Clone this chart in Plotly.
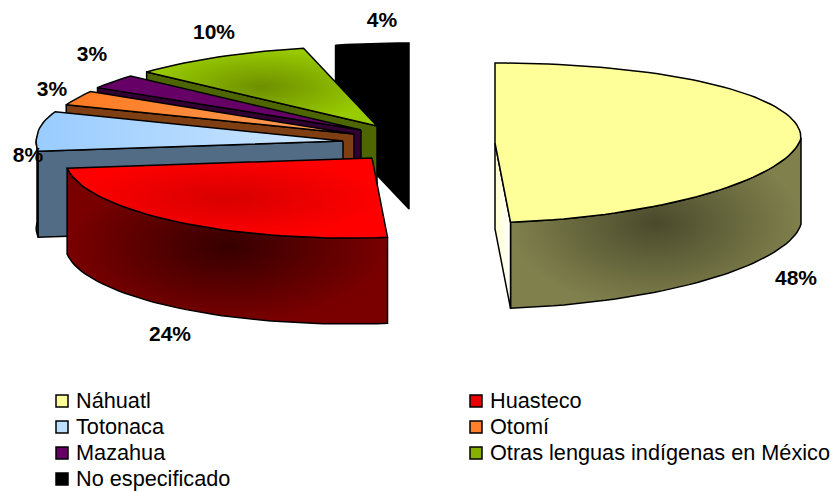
import math
import plotly.graph_objects as go

categories = ["Náhuatl", "Huasteco", "Totonaca", "Otomí", "Mazahua",
              "Otras lenguas indígenas en México", "No especificado"]
percents = [48, 24, 8, 3, 3, 10, 4]

# Styling of each slice
top_grad = [("flat", "#FFFF99", "#FFFF99"), ("radial", "#D80000", "#FF0000"),
            ("horizontal", "#99CCFF", "#CFE7FF"), ("horizontal", "#FF7A20", "#FF9E5C"),
            ("flat", "#660066", "#660066"), ("radial", "#6E8F00", "#99CC00"),
            ("flat", "#000000", "#000000")]
wall_grad = [("radial", "#4A4A2C", "#80804D"), ("radial", "#360000", "#7A0000"),
             ("flat", "#526C86", "#526C86"), ("flat", "#7F3F12", "#7F3F12"),
             ("flat", "#330033", "#330033"), ("flat", "#4D6600", "#4D6600"),
             ("flat", "#000000", "#000000")]
legend_colors = ["#FFFF99", "#E80000", "#BFDFFF", "#FF7F2A", "#660066", "#88B000", "#000000"]

# Projection of the tilted, exploded pie (pixels)
apex = [(495, 143), (372, 158), (343, 141), (354, 134), (361, 130), (377, 126), (409, 123)]
RX, RY, DEPTH = 306, 80, 86
label_pos = [(796, 280), (170, 336), (28, 157), (52, 91), (92, 56), (214, 34), (382, 22)]
legend_cols = [62, 476]
legend_rows = [401, 427, 453, 479]
LEGEND_TEXT_DX = 14
LEGEND_TEXT_DY = 2


def rim(a, deg):
    t = math.radians(deg)
    s, c = math.sin(t), math.cos(t)
    upper_left = 11 * (-s) * c if (s < 0 and c > 0) else 0.0
    return (a[0] + RX * s - 23 * max(0.0, -c) + upper_left, a[1] - RY * c - 5 * s * s)


def style(kind, c0, c1):
    if kind == "flat":
        return dict(fillcolor=c0)
    return dict(fillgradient=dict(type=kind, colorscale=[[0, c0], [1, c1]]))


def poly(fig, pts, st, width=1.5):
    xs = [p[0] for p in pts] + [pts[0][0]]
    ys = [p[1] for p in pts] + [pts[0][1]]
    fig.add_trace(go.Scatter(x=xs, y=ys, mode="lines", fill="toself", showlegend=False,
                             hoverinfo="skip", line=dict(color="black", width=width), **st))


def arc_points(a, d0, d1):
    n = max(4, int((d1 - d0) / 2))
    return [rim(a, d0 + (d1 - d0) * k / n) for k in range(n + 1)]


def down(p):
    return (p[0], p[1] + DEPTH)


fig = go.Figure()

# cumulative angles, clockwise from 12 o'clock
angles = []
run = 0.0
for p in percents:
    angles.append((run * 3.6, (run + p) * 3.6))
    run += p

# back to front
for i in [6, 5, 4, 3, 2, 1, 0]:
    a0, a1 = angles[i]
    a = apex[i]
    arc = arc_points(a, a0, a1)
    wall_st = style(*wall_grad[i])

    # outer rim wall: only the part that faces the viewer
    v0, v1 = max(a0, 90.0), min(a1, 270.0)
    if v1 > v0:
        front = arc_points(a, v0, v1)
        poly(fig, front + [down(p) for p in reversed(front)], wall_st)
    # cut wall on the edge that faces the viewer
    if i == 0:
        e = arc[-1]
        poly(fig, [a, e, down(e), down(a)],
             dict(fillgradient=dict(type="horizontal",
                                    colorscale=[[0, "#FFFFCC"], [1, "#FFFFFF"]])))
    elif i != 1:
        e = arc[0]
        poly(fig, [a, e, down(e), down(a)], wall_st)
    # top face
    poly(fig, [a] + arc, style(*top_grad[i]))

# percentage labels
fig.add_trace(go.Scatter(x=[p[0] for p in label_pos], y=[p[1] for p in label_pos], mode="text",
                         text=[f"<b>{v}%</b>" for v in percents], showlegend=False, hoverinfo="skip",
                         textposition="middle center",
                         textfont=dict(family="Liberation Sans", size=21, color="black")))

# legend, laid out in two columns, row by row
lx = [legend_cols[k % 2] for k in range(len(categories))]
ly = [legend_rows[k // 2] for k in range(len(categories))]
fig.add_trace(go.Scatter(x=lx, y=ly, mode="markers", showlegend=False, hoverinfo="skip",
                         marker=dict(symbol="square", size=12, color=legend_colors,
                                     line=dict(color="black", width=1.5))))
fig.add_trace(go.Scatter(x=[v + LEGEND_TEXT_DX for v in lx], y=[v + LEGEND_TEXT_DY for v in ly],
                         mode="text", text=categories, showlegend=False, hoverinfo="skip",
                         textposition="middle right",
                         textfont=dict(family="Liberation Sans", size=21.7, color="black")))

fig.update_layout(
    width=831, height=491, margin=dict(l=0, r=0, t=0, b=0),
    paper_bgcolor="white", plot_bgcolor="white", hovermode=False, showlegend=False,
    xaxis=dict(range=[0, 831], visible=False, fixedrange=True),
    yaxis=dict(range=[491, 0], visible=False, fixedrange=True),
    font=dict(family="Liberation Sans", color="black"),
)

fig.write_html("out.html", config={"displayModeBar": False},
               post_script="document.body.style.margin='0';")
